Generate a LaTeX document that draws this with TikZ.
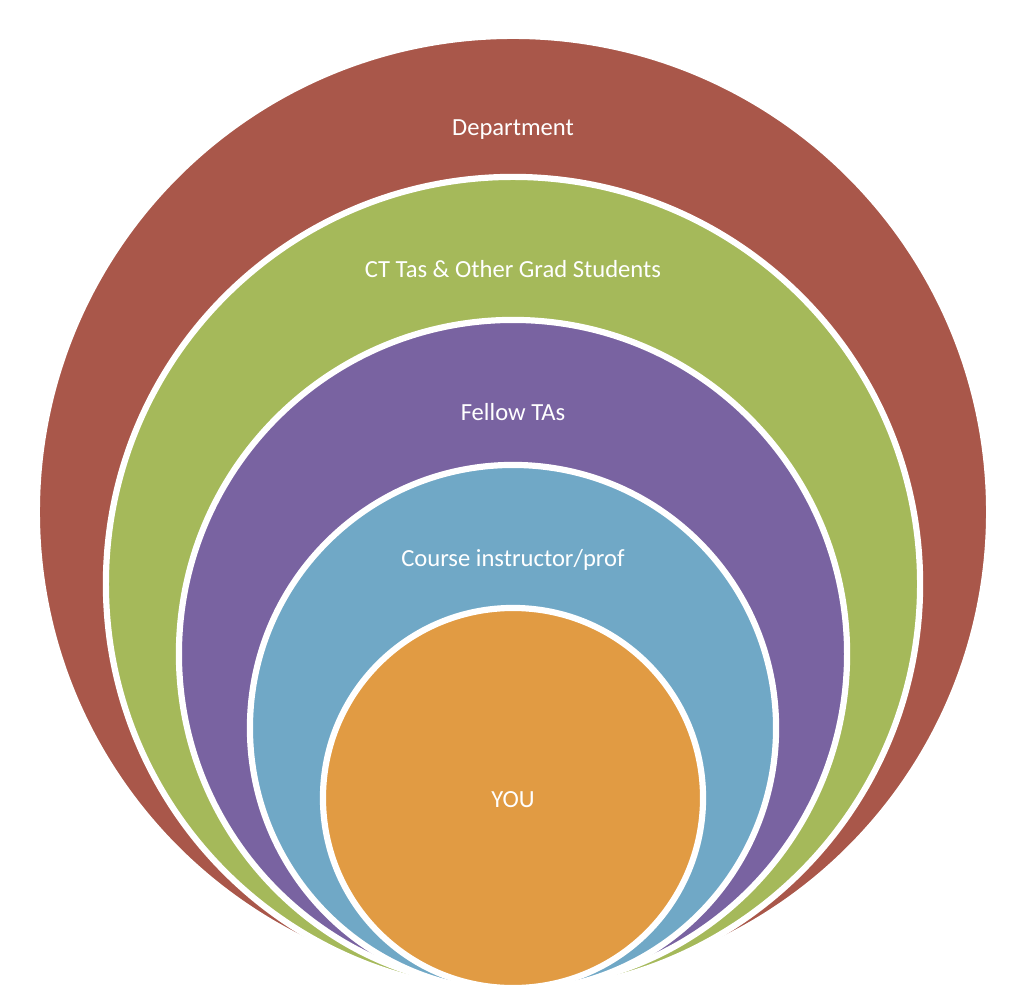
\documentclass[tikz,border=0pt]{standalone}
\usepackage{fontspec}
\setmainfont{Carlito}
\usetikzlibrary{positioning}
\definecolor{ringRed}{RGB}{169,87,74}
\definecolor{ringGreen}{RGB}{165,185,90}
\definecolor{ringPurple}{RGB}{121,99,161}
\definecolor{ringBlue}{RGB}{112,168,198}
\definecolor{ringOrange}{RGB}{225,155,67}
\begin{document}
\begin{tikzpicture}[
    x=0.025cm, y=-0.025cm,
    ring/.style ={circle, draw=white, line width=4.4pt, inner sep=0pt, outer sep=0pt},
    lbl/.style  ={text=white, font=\fontsize{17.5}{20}\selectfont, inner sep=0pt}
]
\useasboundingbox (0,0) rectangle (1031,1003);
\node[ring, fill=ringRed, minimum size=23.8cm] (dept) at (513,512) {};
\node[ring, fill=ringGreen, minimum size=20.35cm] (grad) at (513,584) {};
\node[ring, fill=ringPurple, minimum size=16.7cm] (fellow) at (513,654) {};
\node[ring, fill=ringBlue, minimum size=13.15cm] (prof) at (513,728) {};
\node[ring, fill=ringOrange, minimum size=9.5cm] (you) at (513,798) {};
\node[lbl] (deptlbl) at (513,130) {Department};
\node[lbl] (gradlbl) at (513,269) {CT Tas \& Other Grad Students};
\node[lbl] (fellowlbl) at (513,412) {Fellow TAs};
\node[lbl] (proflbl) at (513,560) {Course instructor/prof};
\node[lbl] (youlbl) at (513,800) {YOU};
\end{tikzpicture}
\end{document}
